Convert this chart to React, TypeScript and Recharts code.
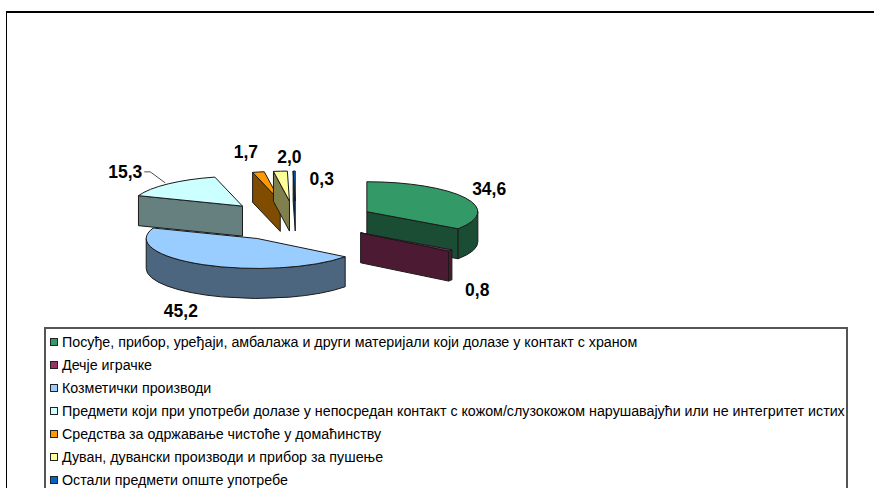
import React from 'react';
import { PieChart, Pie, Cell, Legend } from 'recharts';

const categories = [
  'Посуђе, прибор, уређаји, амбалажа и други материјали који долазе у контакт с храном',
  'Дечје играчке',
  'Козметички производи',
  'Предмети који при употреби долазе у непосредан контакт с кожом/слузокожом нарушавајући или не интегритет истих',
  'Средства за одржавање чистоће у домаћинству',
  'Дуван, дувански производи и прибор за пушење',
  'Остали предмети опште употребе',
];
const shares = [34.6, 0.8, 45.2, 15.3, 1.7, 2.0, 0.3];
const valueLabels = ['34,6', '0,8', '45,2', '15,3', '1,7', '2,0', '0,3'];
const colors = ['#339966', '#993366', '#99CCFF', '#CCFFFF', '#FF9900', '#FFFF99', '#0066CC'];

// 3D look: the flat pie is squashed and every slice pushed out along its middle angle
const RADIUS = 111;
const SQUASH = 0.27;
const DEPTH = 30;
const EXPLODE_X = 80;
const EXPLODE_Y = 20;
const OUTLINE = '#1a1a1a';

// label nudges from the slice's outer edge, in data order
const labelNudge = [
  [24, -9],
  [27, 40],
  [-22.5, 46],
  [-43, -12],
  [-12.5, -20],
  [9, -14],
  [27.5, 8],
];

const rad = (a: number) => (a * Math.PI) / 180;

const shade = (hex: string, k = 0.5) => {
  const n = parseInt(hex.slice(1), 16);
  const c = [(n >> 16) & 255, (n >> 8) & 255, n & 255].map((v) => Math.round(v * k));
  return `rgb(${c.join(',')})`;
};

const sliceApex = (cx: number, cy: number, mid: number) => ({
  x: cx + EXPLODE_X * Math.cos(rad(mid)),
  y: cy - EXPLODE_Y * Math.sin(rad(mid)),
});

const rimPoint = (ax: number, ay: number, r: number, angle: number) => ({
  x: ax + r * Math.cos(rad(angle)),
  y: ay - r * SQUASH * Math.sin(rad(angle)),
});

const Slice3D = (props: any) => {
  const { cx, cy, outerRadius: r, startAngle, endAngle, midAngle, fill } = props;
  const apex = sliceApex(cx, cy, midAngle);
  const start = rimPoint(apex.x, apex.y, r, startAngle);
  const end = rimPoint(apex.x, apex.y, r, endAngle);
  const ry = r * SQUASH;
  const large = startAngle - endAngle > 180 ? 1 : 0;
  const side = shade(fill);
  const faces: React.ReactNode[] = [];

  const radial = (p: { x: number; y: number }, key: string) => (
    <path
      key={key}
      d={`M${apex.x},${apex.y} L${p.x},${p.y} L${p.x},${p.y + DEPTH} L${apex.x},${apex.y + DEPTH} Z`}
      fill={side}
      stroke={OUTLINE}
      strokeWidth={1}
    />
  );
  // only the cut faces turned towards the viewer are drawn
  if (Math.cos(rad(startAngle)) < 0) faces.push(radial(start, 'start'));
  if (Math.cos(rad(endAngle)) > 0) faces.push(radial(end, 'end'));

  // outer wall: part of the rim that faces the viewer (angle between 0 and -180)
  const wallFrom = Math.min(startAngle, 0);
  const wallTo = Math.max(endAngle, -180);
  if (wallFrom > wallTo) {
    const a = rimPoint(apex.x, apex.y, r, wallFrom);
    const b = rimPoint(apex.x, apex.y, r, wallTo);
    const big = wallFrom - wallTo > 180 ? 1 : 0;
    faces.push(
      <path
        key="wall"
        d={`M${a.x},${a.y} A${r},${ry} 0 ${big} 1 ${b.x},${b.y} L${b.x},${b.y + DEPTH} A${r},${ry} 0 ${big} 0 ${a.x},${a.y + DEPTH} Z`}
        fill={side}
        stroke={OUTLINE}
        strokeWidth={1}
      />,
    );
  }

  return (
    <g>
      {faces}
      <path
        d={`M${apex.x},${apex.y} L${start.x},${start.y} A${r},${ry} 0 ${large} 1 ${end.x},${end.y} Z`}
        fill={fill}
        stroke={OUTLINE}
        strokeWidth={1}
      />
    </g>
  );
};

const renderLabel = (props: any) => {
  const { cx, cy, outerRadius: r, midAngle, index } = props;
  const apex = sliceApex(cx, cy, midAngle);
  const edge = rimPoint(apex.x, apex.y, r, midAngle);
  const [dx, dy] = labelNudge[index];
  const x = edge.x + dx;
  const y = edge.y + dy;
  return (
    <g key={index}>
      {index === 3 && (
        <polyline
          points={`${x + 19},${y} ${x + 25},${y} ${x + 40},${y + 11}`}
          fill="none"
          stroke="#222"
          strokeWidth={0.8}
        />
      )}
      <text
        x={x}
        y={y}
        textAnchor="middle"
        dominantBaseline="central"
        fontFamily="Liberation Sans"
        fontWeight="bold"
        fontSize={17.5}
        fill="#000"
      >
        {valueLabels[index]}
      </text>
    </g>
  );
};

const LegendBox = ({ payload }: any) => (
  <div
    style={{
      boxSizing: 'border-box',
      width: 804,
      height: 170,
      border: '2px solid #555',
      background: '#fff',
      paddingTop: 1,
      fontFamily: 'Liberation Sans',
      fontSize: 14.25,
      color: '#000',
    }}
  >
    {(payload || []).map((item: any) => (
      <div key={item.value} style={{ height: 23, display: 'flex', alignItems: 'center', whiteSpace: 'nowrap' }}>
        <span
          style={{
            boxSizing: 'border-box',
            width: 8,
            height: 8,
            marginLeft: 4,
            marginRight: 4,
            border: '1px solid #222',
            background: item.color,
          }}
        />
        {item.value}
      </div>
    ))}
  </div>
);

const tableData = categories.map((name, i) => ({ name, value: shares[i] }));

export default function App() {
  return (
    <div style={{ position: 'absolute', left: 0, top: 0, width: 874, height: 488, overflow: 'hidden', background: '#fff' }}>
      <div
        style={{
          position: 'absolute',
          left: 6,
          top: 11,
          width: 900,
          height: 500,
          borderTop: '2px solid #000',
          borderLeft: '1.5px solid #000',
        }}
      />
      <PieChart
        width={874}
        height={488}
        margin={{ top: 0, right: 0, bottom: 0, left: 0 }}
        style={{ position: 'absolute', left: 0, top: 0 }}
      >
        <Pie
          data={tableData}
          dataKey="value"
          nameKey="name"
          cx={296}
          cy={221}
          outerRadius={RADIUS}
          startAngle={90}
          endAngle={-270}
          paddingAngle={0}
          stroke="none"
          shape={Slice3D}
          label={renderLabel}
          labelLine={false}
          isAnimationActive={false}
        >
          {categories.map((name, i) => (
            <Cell key={name} fill={colors[i]} />
          ))}
        </Pie>
        <Legend
          content={<LegendBox />}
          layout="vertical"
          itemSorter={null}
          wrapperStyle={{ position: 'absolute', left: 44, top: 327, width: 804 }}
        />
      </PieChart>
    </div>
  );
}
